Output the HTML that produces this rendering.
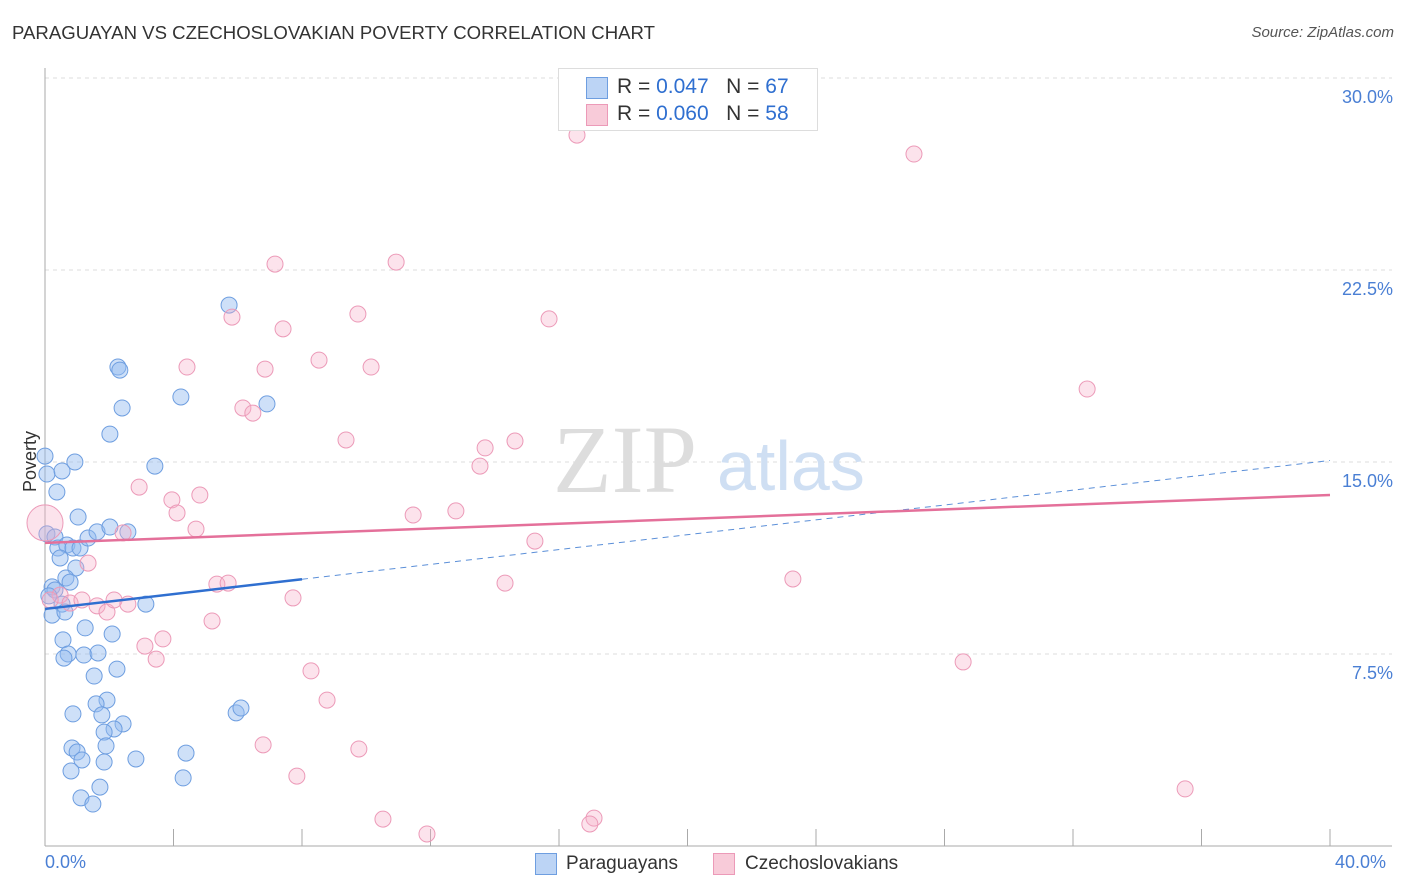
<!DOCTYPE html>
<html><head><meta charset="utf-8">
<style>
body{margin:0;background:#fff;font-family:"Liberation Sans",sans-serif;}
#wrap{position:relative;width:1406px;height:892px;overflow:hidden;}
.t{position:absolute;white-space:nowrap;}
</style></head><body>
<div id="wrap">
<div class="t" style="left:12px;top:22px;font-size:18.6px;color:#333;">PARAGUAYAN VS CZECHOSLOVAKIAN POVERTY CORRELATION CHART</div>
<div class="t" style="right:12px;top:24px;font-size:15px;color:#555;font-style:italic;">Source: ZipAtlas.com</div>
<svg id="svg" width="1406" height="892" style="position:absolute;left:0;top:0"></svg>
</div>
<script>
const blueX=[0,0.06,0.53,0.93,0.37,1.03,2.02,2.40,2.27,2.33,4.23,3.42,5.73,6.91,0.06,0.31,0.40,0.68,0.87,1.09,1.34,1.62,2.02,2.58,0.47,0.96,0.65,0.78,0.22,0.31,0.12,0.53,0.22,0.62,3.14,1.25,2.09,0.56,0.72,0.59,1.21,1.65,2.24,1.53,1.93,1.59,1.77,2.43,2.15,1.84,0.87,5.95,6.10,0.84,1.00,1.90,1.15,1.84,2.83,4.39,0.81,4.30,1.71,1.12,1.49];
const blueY=[15.23,14.53,14.65,15.0,13.83,12.85,16.09,17.11,18.71,18.59,17.54,14.84,21.13,17.27,12.19,12.07,11.64,11.76,11.64,11.64,12.03,12.27,12.46,12.27,11.25,10.86,10.47,10.31,10.12,10.0,9.77,9.45,9.02,9.14,9.45,8.52,8.28,8.05,7.5,7.34,7.46,7.54,6.91,6.64,5.70,5.55,5.12,4.77,4.57,4.45,5.16,5.20,5.39,3.83,3.67,3.91,3.36,3.28,3.40,3.63,2.93,2.66,2.30,1.88,1.64];
const pinkX=[16.56,27.05,7.16,10.93,5.82,7.41,9.74,15.69,8.53,10.15,4.42,6.85,6.16,6.47,9.37,13.70,14.63,13.54,32.44,2.93,3.95,4.82,4.11,11.46,12.79,4.70,2.43,15.25,1.34,5.35,5.70,14.32,23.28,0.47,0.78,1.15,1.62,1.93,2.15,2.58,7.72,5.20,3.67,3.11,3.46,8.28,28.58,8.78,6.79,9.77,7.84,35.49,10.52,17.09,16.96,11.89,0.16];
const pinkY=[27.77,27.03,22.73,22.81,20.66,20.20,20.78,20.59,18.98,18.71,18.71,18.63,17.11,16.91,15.86,15.55,15.82,14.84,17.85,14.02,13.52,13.71,13.01,12.93,13.09,12.38,12.23,11.91,11.05,10.23,10.27,10.27,10.43,9.80,9.49,9.61,9.38,9.14,9.61,9.45,9.69,8.79,8.09,7.81,7.30,6.84,7.19,5.70,3.95,3.79,2.73,2.23,1.05,1.09,0.86,0.47,9.61];
const bigPink=[0,12.62];
const yTicks=[7.5,15,22.5,30];
const yTickLabels=["7.5%","15.0%","22.5%","30.0%"];
const blueTrend=[9.26,10.42,15.06];
const pinkTrend=[11.84,13.71];

const X=v=>45+v*32.125, Y=v=>846-v*25.6;
const svg=document.getElementById('svg');const NS='http://www.w3.org/2000/svg';
function mk(tag,attrs,name){const e=document.createElementNS(NS,tag);for(const k in attrs)e.setAttribute(k,attrs[k]);


svg.appendChild(e);return e;}
yTicks.forEach((t,i)=>{mk('line',{x1:45,x2:1392,y1:Y(t),y2:Y(t),stroke:'#ddd','stroke-dasharray':'4,4'},'gridline');
const tx=mk('text',{x:1393,y:Y(t)+25,'text-anchor':'end','font-size':18,fill:'#4a7fd4','font-family':'Liberation Sans'},'y-tick-label');tx.textContent=yTickLabels[i];});
mk('line',{x1:45,x2:45,y1:68,y2:846,stroke:'#aaa'},'y-axis');
mk('line',{x1:45,x2:1392,y1:846,y2:846,stroke:'#aaa'},'x-axis');
for(let i=0;i<=10;i++)mk('line',{x1:X(i*4),x2:X(i*4),y1:829,y2:846,stroke:'#aaa'},'x-tick');
let w=mk('text',{x:553,y:492,'font-size':96,fill:'#ddd','font-family':'Liberation Serif'},'watermark-zip');w.textContent='ZIP';
w=mk('text',{x:717,y:490,'font-size':70,fill:'#cfdff3','font-family':'Liberation Sans'},'watermark-atlas');w.textContent='atlas';
blueX.forEach((x,i)=>mk('circle',{cx:X(x),cy:Y(blueY[i]),r:8,fill:'rgba(147,186,240,0.45)',stroke:'#6e9ee0','stroke-width':1},'paraguayan-point'));
pinkX.forEach((x,i)=>mk('circle',{cx:X(x),cy:Y(pinkY[i]),r:8,fill:'rgba(246,176,200,0.35)',stroke:'#ec9ab8','stroke-width':1},'czechoslovakian-point'));
mk('circle',{cx:X(bigPink[0]),cy:Y(bigPink[1]),r:18,fill:'rgba(246,176,200,0.35)',stroke:'#ec9ab8'},'czechoslovakian-point-large');
mk('line',{x1:X(8),y1:Y(blueTrend[1]),x2:X(40),y2:Y(blueTrend[2]),stroke:'#5b8fd8','stroke-dasharray':'6,5','stroke-width':1},'paraguayan-trend-extension');
mk('line',{x1:X(0),y1:Y(blueTrend[0]),x2:X(8),y2:Y(blueTrend[1]),stroke:'#2f6fd0','stroke-width':2.5},'paraguayan-trend');
mk('line',{x1:X(0),y1:Y(pinkTrend[0]),x2:X(40),y2:Y(pinkTrend[1]),stroke:'#e4709a','stroke-width':2.5},'czechoslovakian-trend');
</script>
<div class="t" style="left:558px;top:68px;width:258px;height:61px;border:1px solid #ddd;background:#fff;">
 <div class="t" style="left:27px;top:8px;width:20px;height:20px;background:#bcd4f5;border:1px solid #6e9ee0;"></div>
 <div class="t" style="left:58px;top:6px;font-size:21px;color:#333;">R = <span style="color:#2f6fd0">0.047</span> &nbsp;&nbsp;N = <span style="color:#2f6fd0">67</span></div>
 <div class="t" style="left:27px;top:35px;width:20px;height:20px;background:#f8cbd9;border:1px solid #ec9ab8;"></div>
 <div class="t" style="left:58px;top:33px;font-size:21px;color:#333;">R = <span style="color:#2f6fd0">0.060</span> &nbsp;&nbsp;N = <span style="color:#2f6fd0">58</span></div>
</div>
<div class="t" style="left:20px;top:492px;font-size:18px;color:#333;transform:rotate(-90deg);transform-origin:left top;">Poverty</div>
<div class="t" style="left:45px;top:852px;font-size:18px;color:#4a7fd4;">0.0%</div>
<div class="t" style="left:1335px;top:852px;font-size:18px;color:#4a7fd4;">40.0%</div>
<div class="t" style="left:535px;top:853px;width:20px;height:20px;background:#bcd4f5;border:1px solid #6e9ee0;"></div>
<div class="t" style="left:566px;top:853px;font-size:19px;color:#333;">Paraguayans</div>
<div class="t" style="left:713px;top:853px;width:20px;height:20px;background:#f8cbd9;border:1px solid #ec9ab8;"></div>
<div class="t" style="left:745px;top:853px;font-size:19px;color:#333;">Czechoslovakians</div>
</body></html>
